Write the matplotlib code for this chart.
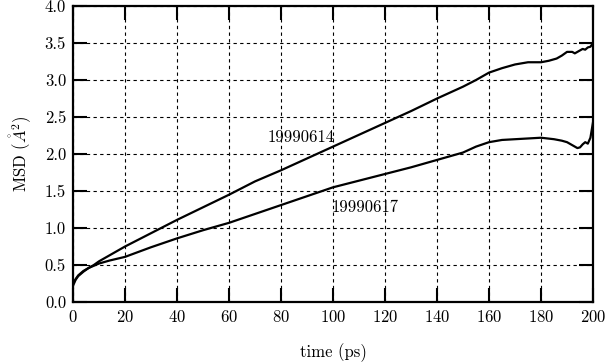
import matplotlib
matplotlib.use("Agg")
import matplotlib.pyplot as plt

plt.rcParams['font.family'] = 'serif'
plt.rcParams['font.serif'] = ['cmr10', 'DejaVu Serif']
plt.rcParams['mathtext.fontset'] = 'cm'
plt.rcParams['axes.formatter.use_mathtext'] = True

time_a = [0, 1, 2, 4, 6, 8, 10, 14, 20, 30, 40, 50, 60, 70, 80, 90, 100, 110, 120,
          130, 140, 150, 155, 160, 165, 170, 175, 180, 183, 186, 188, 190, 192,
          193, 194, 195, 196, 197, 198, 199, 200]
msd_a = [0.22, 0.30, 0.35, 0.41, 0.46, 0.50, 0.55, 0.63, 0.75, 0.93, 1.11, 1.28,
         1.45, 1.63, 1.78, 1.94, 2.10, 2.26, 2.42, 2.58, 2.75, 2.91, 3.00, 3.10,
         3.16, 3.21, 3.24, 3.24, 3.26, 3.29, 3.33, 3.38, 3.38, 3.36, 3.38, 3.40,
         3.42, 3.41, 3.44, 3.45, 3.50]

time_b = [0, 1, 2, 4, 6, 8, 10, 14, 20, 30, 40, 50, 60, 70, 80, 90, 100, 110, 120,
          130, 140, 150, 155, 160, 165, 170, 175, 180, 185, 188, 190, 192, 194,
          195, 196, 197, 198, 199, 200]
msd_b = [0.25, 0.31, 0.36, 0.42, 0.46, 0.49, 0.52, 0.56, 0.61, 0.74, 0.86, 0.97,
         1.07, 1.19, 1.31, 1.43, 1.55, 1.64, 1.73, 1.82, 1.92, 2.02, 2.10, 2.16,
         2.19, 2.20, 2.21, 2.22, 2.20, 2.18, 2.16, 2.12, 2.08, 2.09, 2.13, 2.16,
         2.14, 2.22, 2.43]

label_a = '19990614'
label_b = '19990617'

fig = plt.figure(figsize=(6.05, 3.64), dpi=100)
ax = fig.add_axes([0.1207, 0.1703, 0.8595, 0.8132])

ax.plot(time_a, msd_a, color='black', lw=1.6)
ax.plot(time_b, msd_b, color='black', lw=1.6)

ax.text(75, 2.22, label_a, fontsize=12, va='center')
ax.text(99.5, 1.28, label_b, fontsize=12, va='center')

ax.set_xlim(0, 200)
ax.set_ylim(0, 4)
ax.set_xticks(range(0, 201, 20))
ax.set_yticks([i * 0.5 for i in range(9)])
ax.set_yticklabels(['%.1f' % (i * 0.5) for i in range(9)])

ax.grid(True, color='black', linestyle=(0, (3, 3)), lw=0.8)
ax.tick_params(direction='in', length=10, width=1.5, top=True, right=True,
               labelsize=12, pad=5)
for s in ax.spines.values():
    s.set_linewidth(1.6)

ax.set_xlabel('time (ps)', fontsize=12, labelpad=13)
ax.set_ylabel(r'MSD ($\mathring{A}^2$)', fontsize=12, labelpad=8)

fig.savefig('out.png', dpi=100)
